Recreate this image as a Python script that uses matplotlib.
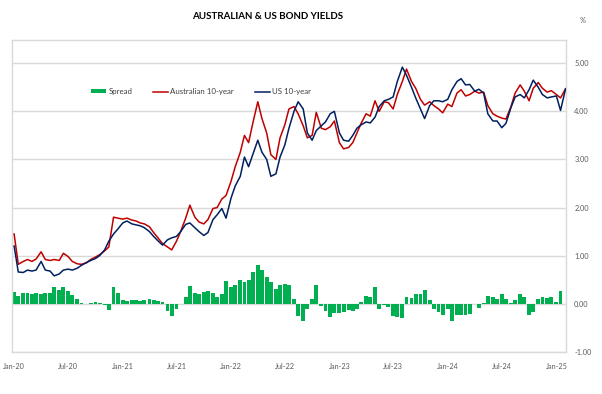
import numpy as np
import pandas as pd
import matplotlib
matplotlib.use("Agg")
import matplotlib.pyplot as plt
import matplotlib.dates as mdates
from matplotlib.patches import Patch
from matplotlib.lines import Line2D

# half-monthly readings, Jan-20 .. Feb-25
dates = pd.date_range("2020-01-01", periods=123, freq="SMS")

aus_10y = [1.45, 0.82, 0.88, 0.92, 0.88, 0.93, 1.08, 0.92, 0.90, 0.92,
           0.90, 1.05, 0.98, 0.88, 0.83, 0.82, 0.85, 0.92, 0.97, 1.02,
           1.10, 1.18, 1.80, 1.78, 1.76, 1.78, 1.74, 1.72, 1.68, 1.66,
           1.60, 1.48, 1.36, 1.25, 1.18, 1.12, 1.30, 1.50, 1.78, 2.05,
           1.80, 1.70, 1.66, 1.75, 1.98, 2.00, 2.18, 2.25, 2.55, 2.85,
           3.15, 3.50, 3.35, 3.75, 4.20, 3.85, 3.55, 3.10, 3.00, 3.45,
           3.72, 4.05, 4.10, 3.95, 3.70, 3.45, 3.50, 3.98, 3.65, 3.62,
           3.68, 3.80, 3.35, 3.22, 3.25, 3.35, 3.55, 3.75, 3.95, 3.90,
           4.22, 4.00, 4.20, 4.18, 4.05, 4.35, 4.62, 4.88, 4.62, 4.48,
           4.25, 4.13, 4.20, 4.12, 4.05, 3.97, 4.15, 4.10, 4.38, 4.45,
           4.32, 4.35, 4.42, 4.38, 4.40, 4.12, 3.95, 3.90, 3.86, 3.84,
           4.10, 4.38, 4.55, 4.42, 4.22, 4.48, 4.60, 4.48, 4.40, 4.43,
           4.35, 4.28, 4.47]

us_10y = [1.20, 0.66, 0.65, 0.70, 0.68, 0.70, 0.88, 0.70, 0.68, 0.58,
          0.62, 0.70, 0.72, 0.70, 0.74, 0.80, 0.86, 0.90, 0.94, 1.00,
          1.12, 1.30, 1.45, 1.55, 1.68, 1.72, 1.66, 1.64, 1.62, 1.58,
          1.50, 1.40, 1.30, 1.22, 1.33, 1.37, 1.40, 1.50, 1.65, 1.68,
          1.58, 1.50, 1.42, 1.48, 1.75, 1.85, 1.98, 1.78, 2.20, 2.45,
          2.65, 3.05, 2.85, 3.10, 3.40, 3.15, 3.00, 2.65, 2.70, 3.05,
          3.30, 3.65, 4.00, 4.20, 4.05, 3.55, 3.40, 3.60, 3.70, 3.78,
          3.95, 4.00, 3.55, 3.40, 3.38, 3.50, 3.65, 3.72, 3.78, 3.76,
          3.88, 4.10, 4.22, 4.25, 4.30, 4.62, 4.92, 4.75, 4.50, 4.28,
          4.05, 3.85, 4.12, 4.22, 4.22, 4.20, 4.25, 4.45, 4.62, 4.68,
          4.55, 4.56, 4.42, 4.46, 4.38, 3.95, 3.80, 3.80, 3.66, 3.75,
          4.08, 4.30, 4.35, 4.28, 4.45, 4.65, 4.50, 4.35, 4.28, 4.30,
          4.32, 4.02, 4.47]

spread = np.array(aus_10y) - np.array(us_10y)

tick_dates = pd.date_range("2020-01-01", "2025-01-01", freq="6MS")

green = "#00b050"
red = "#c00000"
navy = "#002060"
grey_txt = "#595959"
grid_col = "#d9d9d9"

plt.rcParams["font.family"] = ["Lato", "DejaVu Sans"]

fig = plt.figure(figsize=(6.02, 3.94), dpi=100)
ax = fig.add_axes([0.020, 0.107, 0.920, 0.791])

ax.bar(dates, spread, width=13, color=green, linewidth=0, zorder=2)
ax.plot(dates, aus_10y, color=red, lw=1.1, zorder=3)
ax.plot(dates, us_10y, color=navy, lw=1.1, zorder=4)

ax.set_ylim(-1, 5.48)
ax.set_yticks([-1, 0, 1, 2, 3, 4, 5])
ax.set_yticklabels([f"{v:.2f}" for v in [-1, 0, 1, 2, 3, 4, 5]])
ax.yaxis.tick_right()
ax.tick_params(axis="y", length=0, pad=6, labelsize=5.3, labelcolor=grey_txt)
ax.grid(axis="y", color=grid_col, lw=1.0, zorder=0)

ax.set_xlim(pd.Timestamp("2019-12-25"), pd.Timestamp("2025-02-02"))
ax.set_xticks(tick_dates)
ax.xaxis.set_major_formatter(mdates.DateFormatter("%b-%y"))
ax.tick_params(axis="x", length=0, pad=8, labelsize=5.2, labelcolor=grey_txt)

for s in ax.spines.values():
    s.set_color(grid_col)
    s.set_linewidth(1.0)

fig.text(0.445, 0.957, "AUSTRALIAN & US BOND YIELDS", ha="center", va="center",
         fontsize=7, fontweight="bold", color="#000000")
fig.text(0.968, 0.947, "%", ha="center", va="center", fontsize=5.3, color=grey_txt)

handles = [Patch(facecolor=green, edgecolor="none"),
           Line2D([], [], color=red, lw=1.1),
           Line2D([], [], color=navy, lw=1.1)]
labels = ["Spread", "Australian 10-year", "US 10-year"]
leg = ax.legend(handles, labels, ncol=3, frameon=False, fontsize=5.7,
                loc="center", bbox_to_anchor=(0.341, 0.835),
                handlelength=1.9, handleheight=0.45, handletextpad=0.3,
                columnspacing=2.6, labelcolor="#404040")

fig.savefig("out.png", dpi=100, facecolor="white")
